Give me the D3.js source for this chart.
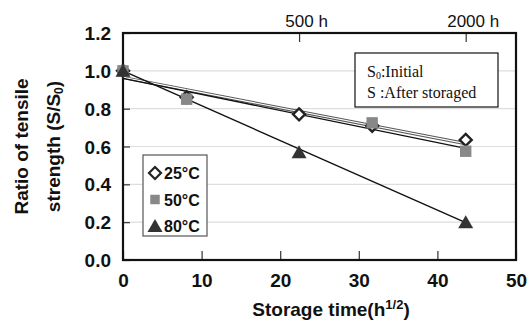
<!DOCTYPE html>
<html>
<head>
<meta charset="utf-8">
<script src="https://cdn.jsdelivr.net/npm/d3@7"></script>
<style>
  body { margin: 0; background: #fff; }
  svg text { font-family: "Liberation Sans", Arial, sans-serif; font-weight: bold; fill: #111; }
  .serif { font-family: "Liberation Serif", "Times New Roman", serif !important; font-weight: normal !important; }
  .light { font-family: "Liberation Sans", Arial, sans-serif !important; font-weight: normal !important; }
</style>
</head>
<body>
<div id="chart"></div>
<script>
// storage time in sqrt(h)
var times = [0, 8.1, 22.4, 31.7, 43.6];
// ratio S/S0 per temperature, null = no point
var s25 = [1.0, 0.86, 0.77, 0.71, 0.635];
var s50 = [1.0, 0.85, null, 0.725, 0.575];
var s80 = [1.0, null, 0.57, null, 0.2];
// trend lines, value at first and last time
var trend25 = [0.965, 0.615];
var trend50 = [0.96, 0.59];
var trend80 = [1.0, 0.197];

var xTicks = [0, 10, 20, 30, 40, 50];
var yTicks = [0, 0.2, 0.4, 0.6, 0.8, 1.0, 1.2];
var topTicks = [22.4, 43.6];
var topLabels = ["500 h", "2000 h"];
var legendLabels = ["25°C", "50°C", "80°C"];

var margin = {top: 33, left: 123, right: 12, bottom: 62},
    width = 528 - margin.left - margin.right,
    height = 322 - margin.top - margin.bottom;

var svg = d3.select("#chart").append("svg")
    .attr("width", 528)
    .attr("height", 322)
  .append("g")
    .attr("transform", "translate(" + margin.left + "," + margin.top + ")");

var x = d3.scaleLinear().domain([0, 50]).range([0, width]);
var y = d3.scaleLinear().domain([0, 1.2]).range([height, 0]);

// grid lines
svg.selectAll(".grid").data(yTicks.slice(1, 6)).enter().append("line")
    .attr("x1", 0).attr("x2", width)
    .attr("y1", function(d) { return y(d); }).attr("y2", function(d) { return y(d); })
    .style("stroke", "#ddd").style("stroke-width", 1.2);

// y axis
var yAxis = svg.append("g")
    .call(d3.axisLeft(y).tickValues(yTicks).tickFormat(d3.format(".1f")).tickSize(-7).tickPadding(12));
yAxis.select(".domain").remove();
yAxis.selectAll("text").style("font-size", "19px").attr("dy", "0.35em");
yAxis.selectAll("line").style("stroke", "#333").style("stroke-width", 1.2);

// x axis
var xAxis = svg.append("g")
    .attr("transform", "translate(0," + height + ")")
    .call(d3.axisBottom(x).tickValues(xTicks).tickSize(-9).tickPadding(14));
xAxis.select(".domain").remove();
xAxis.selectAll("text").style("font-size", "19px");
xAxis.selectAll("line").style("stroke", "#333").style("stroke-width", 1.2);

// top axis (hours)
var topAxis = svg.append("g")
    .call(d3.axisTop(x).tickValues(topTicks).tickSize(-9).tickPadding(6)
        .tickFormat(function(d, i) { return topLabels[i]; }));
topAxis.select(".domain").remove();
topAxis.selectAll("text").attr("class", "light").style("font-size", "17px").attr("dx", "7");
topAxis.selectAll("line").style("stroke", "#333").style("stroke-width", 1.2);

// frame
svg.append("rect")
    .attr("width", width).attr("height", height)
    .style("fill", "none").style("stroke", "#111").style("stroke-width", 2.2);

// trend lines
var t0 = times[0], t1 = times[times.length - 1];
function trendLine(tr) {
  return d3.line()([[x(t0), y(tr[0])], [x(t1), y(tr[1])]]);
}
svg.append("path").attr("d", trendLine(trend25))
    .style("stroke", "#555").style("stroke-width", 3.2).style("fill", "none");
svg.append("path").attr("d", trendLine(trend25))
    .style("stroke", "#fff").style("stroke-width", 1.2).style("fill", "none");
svg.append("path").attr("d", trendLine(trend50))
    .style("stroke", "#111").style("stroke-width", 1.4).style("fill", "none");
svg.append("path").attr("d", trendLine(trend80))
    .style("stroke", "#111").style("stroke-width", 1.4).style("fill", "none");

var diamond = "M0,-6L6,0L0,6L-6,0Z";
var square = d3.symbol().type(d3.symbolSquare).size(130)();
var triangle = "M0,-7L7.5,6L-7.5,6Z";

function points(vals) {
  return times.map(function(t, i) { return {t: t, v: vals[i]}; })
    .filter(function(d) { return d.v !== null; });
}

svg.selectAll(".d25").data(points(s25)).enter().append("path")
    .attr("d", diamond)
    .attr("transform", function(d) { return "translate(" + x(d.t) + "," + y(d.v) + ")"; })
    .style("fill", "#fff").style("stroke", "#222").style("stroke-width", 2.4);
svg.selectAll(".d50").data(points(s50)).enter().append("path")
    .attr("d", square)
    .attr("transform", function(d) { return "translate(" + x(d.t) + "," + y(d.v) + ")"; })
    .style("fill", "#888");
svg.selectAll(".d80").data(points(s80)).enter().append("path")
    .attr("d", triangle)
    .attr("transform", function(d) { return "translate(" + x(d.t) + "," + y(d.v) + ")"; })
    .style("fill", "#333");

// legend
var legend = svg.append("g").attr("transform", "translate(20,122)");
legend.append("rect").attr("width", 64).attr("height", 81)
    .style("fill", "#fff").style("stroke", "#555").style("stroke-width", 1.2);
var shapes = [diamond, d3.symbol().type(d3.symbolSquare).size(90)(), triangle];
var fills = ["#fff", "#888", "#333"];
legendLabels.forEach(function(lab, i) {
  var g = legend.append("g").attr("transform", "translate(12," + (18 + i * 26.5) + ")");
  g.append("path").attr("d", shapes[i])
    .style("fill", fills[i])
    .style("stroke", i === 0 ? "#222" : "none").style("stroke-width", 2.2);
  g.append("text").attr("x", 9).attr("dy", "0.38em").style("font-size", "16px").text(lab);
});

// note box
var note = svg.append("g").attr("transform", "translate(" + (355 - margin.left) + "," + (53 - margin.top) + ")");
note.append("rect").attr("width", 143).attr("height", 54)
    .style("fill", "#fff").style("stroke", "#111").style("stroke-width", 1.2);
var n1 = note.append("text").attr("class", "serif").attr("x", 12).attr("y", 24).style("font-size", "16px");
n1.append("tspan").text("S");
n1.append("tspan").style("font-size", "10px").attr("dy", 2).text("0");
n1.append("tspan").attr("dy", -2).text(":Initial");
note.append("text").attr("class", "serif").attr("x", 12).attr("y", 45).style("font-size", "16px")
    .text("S :After storaged");

// axis titles
svg.append("text")
    .attr("text-anchor", "middle")
    .attr("x", 208).attr("y", height + 56)
    .style("font-size", "19px")
    .call(function(t) {
      t.append("tspan").text("Storage time(h");
      t.append("tspan").attr("dy", -7).style("font-size", "13px").text("1/2");
      t.append("tspan").attr("dy", 7).text(")");
    });

var yt = svg.append("text")
    .attr("transform", "translate(" + (-95) + "," + (height / 2) + ") rotate(-90)")
    .attr("text-anchor", "middle")
    .style("font-size", "19px");
yt.append("tspan").attr("x", 0).attr("dy", 0).text("Ratio of tensile");
var l2 = yt.append("tspan").attr("x", 0).attr("dy", 32);
l2.text("strength (S/S");
yt.append("tspan").style("font-size", "12px").attr("dy", 3).text("0");
yt.append("tspan").attr("dy", -3).text(")");
</script>
</body>
</html>
